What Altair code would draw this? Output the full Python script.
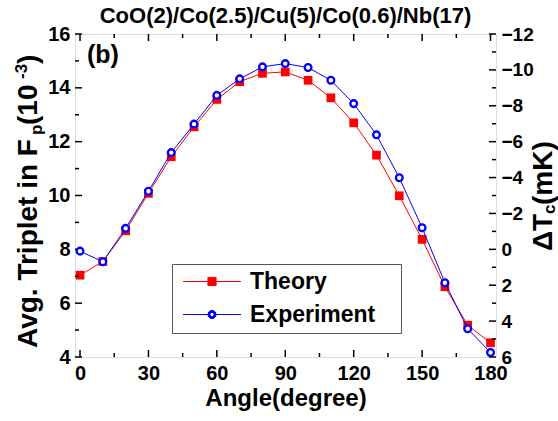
import altair as alt
import pandas as pd

# ---------------- data ----------------
angles = [0, 10, 20, 30, 40, 50, 60, 70, 80, 90, 100, 110, 120, 130, 140, 150, 160, 170, 180]
theory_fp = [7.04, 7.55, 8.69, 10.08, 11.44, 12.55, 13.57, 14.23, 14.54, 14.59,
             14.28, 13.63, 12.70, 11.50, 9.99, 8.37, 6.61, 5.18, 4.53]
experiment_dtc = [0.10, 0.69, -1.17, -3.24, -5.39, -6.98, -8.58, -9.50, -10.17, -10.35,
                  -10.13, -9.42, -8.12, -6.38, -3.99, -1.20, 1.86, 4.43, 5.75]
series_names = ["Theory", "Experiment"]

x_major = [0, 30, 60, 90, 120, 150, 180]
x_minor = [15, 45, 75, 105, 135, 165]
left_major = [4, 6, 8, 10, 12, 14, 16]
left_minor = [5, 7, 9, 11, 13, 15]
right_major = [-12, -10, -8, -6, -4, -2, 0, 2, 4, 6]
right_minor = [-11, -9, -7, -5, -3, -1, 1, 3, 5]

chart_title = "CoO(2)/Co(2.5)/Cu(5)/Co(0.6)/Nb(17)"
panel_label = ["(b)"]
x_title = "Angle(degree)"
left_title_parts = ["Avg. Triplet in F", "p", " (10", "-3", ")"]
right_title_parts = ["ΔT", "c", "(mK)"]

# ---------------- style ----------------
W, H = 421, 323
FONT = "Liberation Sans"
RED = "#ff0000"
BLUE = "#0000ff"
MAJ, MIN = 7, 4

xscale = alt.Scale(domain=[-2.2, 182.4], nice=False, zero=False)
yl_scale = alt.Scale(domain=[4, 16], nice=False, zero=False)
yr_scale = alt.Scale(domain=[-12, 6], nice=False, zero=False, reverse=True)

lab = dict(labelFont=FONT, labelFontWeight="bold", labelColor="black",
           ticks=False, domain=False, grid=False,
           labelFlush=False, labelOverlap=False)

x_axis = alt.Axis(values=x_major, title=x_title, titleFont=FONT, titleFontSize=24,
                  titleFontWeight="bold", titleColor="black", titlePadding=3,
                  labelFontSize=20, labelPadding=6, **lab)
yl_axis = alt.Axis(values=left_major, title="", orient="left", labelFontSize=20, labelPadding=5, **lab)
yr_axis = alt.Axis(values=right_major, title="", orient="right", labelFontSize=19, labelPadding=5, **lab)

X = alt.X("angle:Q", scale=xscale, axis=x_axis)

df_t = pd.DataFrame({"angle": angles, "fp": theory_fp})
df_e = pd.DataFrame({"angle": angles, "dtc": experiment_dtc})


def vticks(vals, top, length):
    y0 = 0 if top else H
    y1 = length if top else H - length
    return alt.Chart(pd.DataFrame({"v": vals})).mark_rule(color="black", strokeWidth=1.5).encode(
        x=alt.X("v:Q", scale=xscale, axis=x_axis), y=alt.value(y0), y2=alt.value(y1))


def hticks(vals, scale, axis, right, length):
    x0 = W if right else 0
    x1 = W - length if right else length
    return alt.Chart(pd.DataFrame({"v": vals})).mark_rule(color="black", strokeWidth=1.5).encode(
        y=alt.Y("v:Q", scale=scale, axis=axis), x=alt.value(x0), x2=alt.value(x1))


# ---------------- legend (from scales) ----------------
# custom symbol paths (unit = 10 px); symbol anchor sits 10.5 px into the entry
path_t = ("M-1.05,0M20.35,0"
          "M-0.65,0H1.84M2.66,0H5.15"
          "M1.84,-0.41H2.66V0.41H1.84Z")
path_e = ("M-1.05,0M20.35,0"
          "M-0.65,0H1.84M2.66,0H5.15"
          "M2.66,0A0.41,0.41 0 1,1 1.84,0A0.41,0.41 0 1,1 2.66,0Z"
          "M2.45,0A0.2,0.2 0 1,0 2.05,0A0.2,0.2 0 1,0 2.45,0Z")
leg = alt.Legend(orient="none", legendX=97, legendY=230, title=None, direction="vertical",
                 padding=6, strokeColor="#555555", fillColor="white",
                 symbolSize=400, symbolStrokeWidth=1, symbolOpacity=1,
                 labelFont=FONT, labelFontSize=23, labelFontWeight="bold", labelColor="black",
                 labelOffset=49, rowPadding=9)
legend_layer = alt.Chart(pd.DataFrame({"series": series_names})).transform_filter("false").mark_point(
    strokeWidth=1).encode(
    shape=alt.Shape("series:N", scale=alt.Scale(domain=series_names, range=[path_t, path_e]), legend=leg),
    fill=alt.Fill("series:N", scale=alt.Scale(domain=series_names, range=[RED, BLUE]), legend=leg),
    stroke=alt.Stroke("series:N", scale=alt.Scale(domain=series_names, range=[RED, BLUE]), legend=leg),
)

# ---------------- left (theory) ----------------
t_line = alt.Chart(df_t).mark_line(color=RED, strokeWidth=1).encode(
    x=X, y=alt.Y("fp:Q", scale=yl_scale, axis=yl_axis))
t_pts = alt.Chart(df_t).mark_square(color=RED, size=76, opacity=1).encode(
    x=X, y=alt.Y("fp:Q", scale=yl_scale, axis=yl_axis))

left = alt.layer(
    t_line, t_pts,
    hticks(left_major, yl_scale, yl_axis, False, MAJ), hticks(left_minor, yl_scale, yl_axis, False, MIN),
    vticks(x_major, False, MAJ), vticks(x_minor, False, MIN),
    vticks(x_major, True, MAJ), vticks(x_minor, True, MIN),
    legend_layer,
)

# ---------------- right (experiment) ----------------
e_line = alt.Chart(df_e).mark_line(color=BLUE, strokeWidth=1).encode(
    x=X, y=alt.Y("dtc:Q", scale=yr_scale, axis=yr_axis))
e_pts = alt.Chart(df_e).mark_circle(fill="white", stroke=BLUE, strokeWidth=2.3, size=45, opacity=1).encode(
    x=X, y=alt.Y("dtc:Q", scale=yr_scale, axis=yr_axis))

right = alt.layer(
    e_line, e_pts,
    hticks(right_major, yr_scale, yr_axis, True, MAJ), hticks(right_minor, yr_scale, yr_axis, True, MIN),
)


# ---------------- texts ----------------
def txt(s, x, y, size, angle=None):
    kw = dict(font=FONT, fontSize=size, fontWeight="bold", color="black", align="left",
              baseline="alphabetic")
    if angle is not None:
        kw["angle"] = angle
    return alt.Chart(pd.DataFrame({"t": [s]})).mark_text(**kw).encode(
        text="t:N", x=alt.value(x), y=alt.value(y))


texts = [txt(panel_label[0], 12, 29, 25)]
# left title (rotated)
texts += [
    txt(left_title_parts[0], -38, 314, 28, 270),
    txt(left_title_parts[1], -33, 101, 17, 270),
    txt(left_title_parts[2], -38, 91, 28, 270),
    txt(left_title_parts[3], -48, 45, 17, 270),
    txt(left_title_parts[4], -38, 30, 28, 270),
]
# right title (rotated)
texts += [
    txt(right_title_parts[0], 477, 217, 28, 270),
    txt(right_title_parts[1], 480, 180, 17, 270),
    txt(right_title_parts[2], 477, 171, 28, 270),
]

chart = alt.layer(left, right, *texts).resolve_scale(y="independent").properties(
    width=W, height=H,
    title=alt.TitleParams(chart_title, font=FONT, fontSize=22, fontWeight="bold",
                          color="black", offset=6, dy=10, anchor="middle"),
    autosize=alt.AutoSizeParams(type="none"),
    padding={"left": 75, "top": 34, "right": 62, "bottom": 64},
).configure_view(stroke="black", strokeWidth=2).configure(background="white")

chart.save("out.html", embed_options={"renderer": "svg", "actions": False})
